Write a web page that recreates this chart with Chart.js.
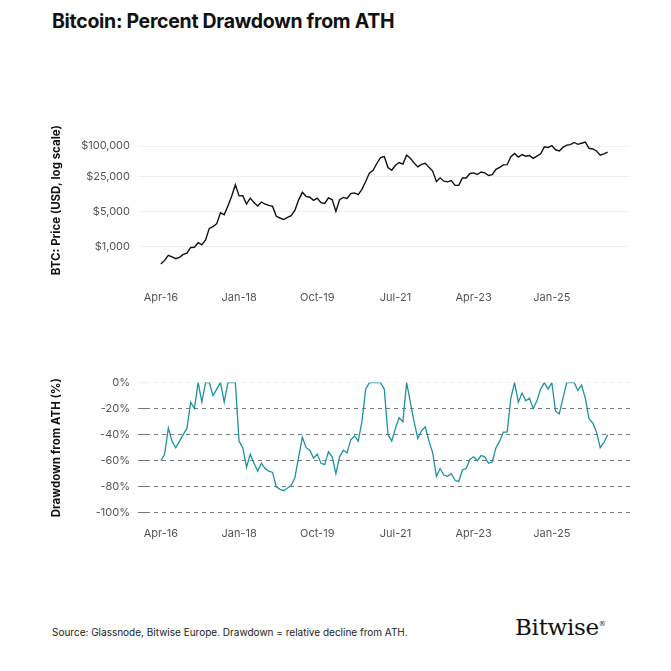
<!DOCTYPE html>
<html lang="en">
<head>
<meta charset="UTF-8">
<title>Bitcoin: Percent Drawdown from ATH</title>
<script src="https://cdn.jsdelivr.net/npm/chart.js"></script>
<style>
    body { margin: 0; background: #fff; font-family: 'Inter', sans-serif; }
    .page { position: relative; width: 671px; height: 671px; }
    h1 { position: absolute; left: 52px; top: 9px; margin: 0; font-size: 19.5px; font-weight: 700; letter-spacing: -0.3px; color: #111; }
    .box { position: absolute; left: 46px; width: 584px; }
    #top { top: 109px; height: 201px; }
    #bottom { top: 368px; height: 178px; }
    .src { position: absolute; left: 52px; top: 626px; font-size: 10px; color: #222; }
    .logo { position: absolute; left: 515px; top: 614px; font-family: 'DejaVu Serif', serif; font-size: 23px; color: #111; letter-spacing: -0.3px; }
    .logo sup { font-size: 7px; }
</style>
</head>
<body>
<div class="page">
    <h1>Bitcoin: Percent Drawdown from ATH</h1>
    <div class="box" id="top"><canvas id="priceChart"></canvas></div>
    <div class="box" id="bottom"><canvas id="ddChart"></canvas></div>
    <div class="src">Source: Glassnode, Bitwise Europe. Drawdown = relative decline from ATH.</div>
    <div class="logo">Bitwise<sup>®</sup></div>
</div>
<script>
// monthly, starting Apr-2016
const tickLabels = ['Apr-16', 'Jan-18', 'Oct-19', 'Jul-21', 'Apr-23', 'Jan-25'];
const tickMonths = [0, 21, 42, 63, 84, 105];
const priceTicks = [1000, 5000, 25000, 100000];
const ddTicks = [0, -20, -40, -60, -80, -100];

const price = [
    450, 530, 670, 620, 575, 610, 700, 740, 960,
    970, 1190, 1080, 1350, 2300, 2500, 2850, 4700, 4300, 6400, 10000, 17000,
    10200, 10300, 7000, 9200, 7500, 6400, 7700, 7000, 6600, 6300, 4000, 3700,
    3450, 3800, 4100, 5300, 8500, 12000, 10000, 9600, 8300, 9200, 7500, 7200,
    9300, 8600, 5000, 8600, 9500, 9100, 11300, 11700, 10800, 13800, 19700, 29000,
    33000, 45000, 58800, 62000, 37300, 33000, 41500, 47100, 43800, 66000, 57000, 46300,
    38500, 43200, 45500, 37700, 31800, 19800, 23300, 20000, 19400, 20500, 16500, 16500,
    23100, 23100, 28500, 29200, 27200, 30500, 29200, 26000, 27000, 34500, 37700, 42300,
    42600, 61200, 71300, 60600, 67500, 62700, 64600, 57000, 63300, 70200, 96400, 93400,
    102400, 84400, 80000, 94200, 104600, 107100, 118000, 108200, 114000, 120000, 90400, 87500,
    80000, 66000, 70000, 76000
];

const drawdown = [
    -60, -55, -35, -45, -50, -45, -40, -35, -15,
    -20, 0, -15, 0, 0, -10, -5, 0, -15, 0, 0, 0,
    -45, -50, -65, -55, -62, -68, -62, -66, -68, -69, -80, -82,
    -83, -81, -79, -73, -57, -42, -50, -52, -58, -55, -62, -63,
    -53, -57, -70, -57, -52, -54, -44, -41, -45, -30, -5, 0,
    0, 0, 0, -5, -40, -45, -35, -27, -30, 0, -15, -30,
    -43, -37, -34, -45, -54, -72, -66, -71, -72, -70, -75, -76,
    -67, -66, -59, -57, -60, -56, -57, -62, -61, -50, -45, -38,
    -38, -12, 0, -15, -8, -14, -12, -20, -14, -5, 0, -5,
    0, -22, -24, -12, 0, 0, 0, -6, -2, -12, -28, -31,
    -38, -50, -46, -40
];

const tickColor = '#555';
const font = { family: 'Inter', size: 11 };
const axisWidth = 100;

function xScale() {
    return {
        type: 'linear', min: -4, max: 126,
        grid: { display: false }, border: { display: false },
        afterBuildTicks: ax => { ax.ticks = tickMonths.map(v => ({ value: v })); },
        ticks: { color: tickColor, font, padding: 6, callback: v => tickLabels[tickMonths.indexOf(v)] }
    };
}

function titleOpt(text) {
    return { display: true, text, color: '#111', font: { family: 'Inter', size: 11.5, weight: '700' }, padding: { bottom: 14 } };
}

new Chart(document.getElementById('priceChart'), {
    type: 'line',
    data: { datasets: [{ data: price.map((v, i) => ({ x: i, y: v })), borderColor: '#111', borderWidth: 1.4, pointRadius: 0, tension: 0 }] },
    options: {
        responsive: true, maintainAspectRatio: false, animation: false,
        plugins: { legend: { display: false }, tooltip: { enabled: false } },
        scales: {
            x: xScale(),
            y: {
                type: 'logarithmic', min: 250, max: 280000,
                afterBuildTicks: ax => { ax.ticks = priceTicks.map(v => ({ value: v })); },
                afterFit: ax => { ax.width = axisWidth; },
                grid: { color: '#f0f0f0' }, border: { display: false },
                ticks: { color: tickColor, font, padding: 8, callback: v => '$' + v.toLocaleString('en-US') },
                title: titleOpt('BTC: Price (USD, log scale)')
            }
        }
    }
});

new Chart(document.getElementById('ddChart'), {
    type: 'line',
    data: { datasets: [{ data: drawdown.map((v, i) => ({ x: i, y: v })), borderColor: '#1d93a1', borderWidth: 1.3, pointRadius: 0, tension: 0 }] },
    options: {
        responsive: true, maintainAspectRatio: false, animation: false,
        plugins: { legend: { display: false }, tooltip: { enabled: false } },
        scales: {
            x: xScale(),
            y: {
                min: -100, max: 0,
                afterBuildTicks: ax => { ax.ticks = ddTicks.map(v => ({ value: v })); },
                afterFit: ax => { ax.width = axisWidth; },
                grid: { color: ctx => ctx.tick.value === 0 ? '#eeeeee' : '#777', borderDash: [4, 4], lineWidth: 1 },
                border: { display: false, dash: [4, 4] },
                ticks: { color: tickColor, font, padding: 8, callback: v => v + '%' },
                title: titleOpt('Drawdown from ATH (%)')
            }
        }
    }
});
</script>
</body>
</html>
